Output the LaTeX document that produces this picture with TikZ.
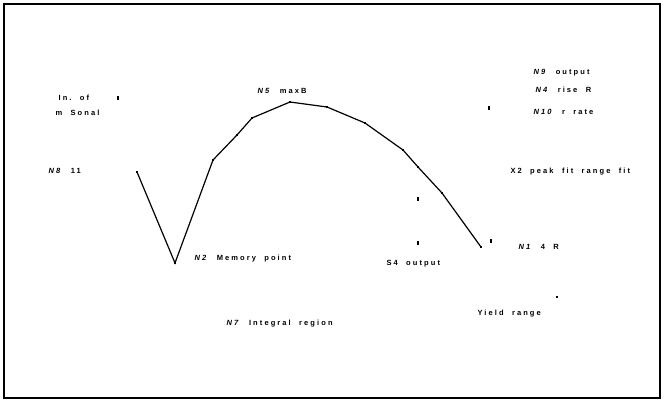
\documentclass[tikz,border=0pt]{standalone}
\usepackage{fontspec}
\setmainfont{Liberation Sans}[LetterSpace=28]
\usetikzlibrary{positioning}

\tikzset{
  lbl/.style={font=\fontsize{7.5}{8.5}\selectfont\bfseries, inner sep=0pt, anchor=west},
  mk/.style={fill=black, inner sep=0pt, minimum size=2.6pt},
  tk/.style={fill=black, inner sep=0pt, minimum width=2.4pt, minimum height=4pt},
}

\begin{document}
\begin{tikzpicture}[x=1pt, y=-1pt, line width=1.2pt]
  \useasboundingbox (0,0) rectangle (664,402);
  \draw[line width=1.2pt] (4,4) rectangle (660,398);

  % curve vertices
  \node[mk] (p1) at (137,172) {};
  \node[mk] (p2) at (175,263) {};
  \node[mk] (p3) at (213,160) {};
  \node[mk] (p4) at (237,135) {};
  \node[mk] (p5) at (252,118) {};
  \node[mk] (p6) at (290,102) {};
  \node[mk] (p7) at (327,107) {};
  \node[mk] (p8) at (365,123) {};
  \node[mk] (p9) at (403,150) {};
  \node[mk] (p10) at (418,167) {};
  \node[mk] (p11) at (442,193) {};
  \node[mk] (p12) at (481,247) {};
  \draw (p1.center) -- (p2.center) -- (p3.center) -- (p4.center) -- (p5.center)
    -- (p6.center) -- (p7.center) -- (p8.center) -- (p9.center) -- (p10.center)
    -- (p11.center) -- (p12.center);

  % loose marks
  \node[tk] (m1) at (118,98) {};
  \node[tk] (m2) at (489,108) {};
  \node[tk] (m3) at (418,199) {};
  \node[tk] (m4) at (418,243) {};
  \node[tk] (m5) at (491,241) {};
  \node[mk] (m6) at (557,297) {};

  % labels
  \node[lbl] (in1) at (58,98) {In.\ \ of};
  \node[lbl] (in2) at (55,113) {m\ \ Sonal};
  \node[lbl] (n8) at (48,171) {\textit{N8}\ \ 11};
  \node[lbl] (n5) at (257,91) {\textit{N5}\ \ maxB};
  \node[lbl] (n2) at (194,259) {\textit{N2}\ \ Memory\ \ point};
  \node[lbl] (n7) at (226,324) {\textit{N7}\ \ Integral\ \ region};
  \node[lbl] (n9) at (533,73) {\textit{N9}\ \ output};
  \node[lbl] (n4) at (535,90) {\textit{N4}\ \ rise\ \ R};
  \node[lbl] (n10) at (533,112) {\textit{N10}\ \ r\ \ rate};
  \node[lbl] (x2) at (510,172) {X2\ \ peak\ \ fit\ \ range\ \ fit};
  \node[lbl] (n1) at (518,247) {\textit{N1}\ \ 4\ \ R};
  \node[lbl] (s4) at (386,264) {S4\ \ output};
  \node[lbl] (yr) at (477,314) {Yield\ \ range};
\end{tikzpicture}
\end{document}
